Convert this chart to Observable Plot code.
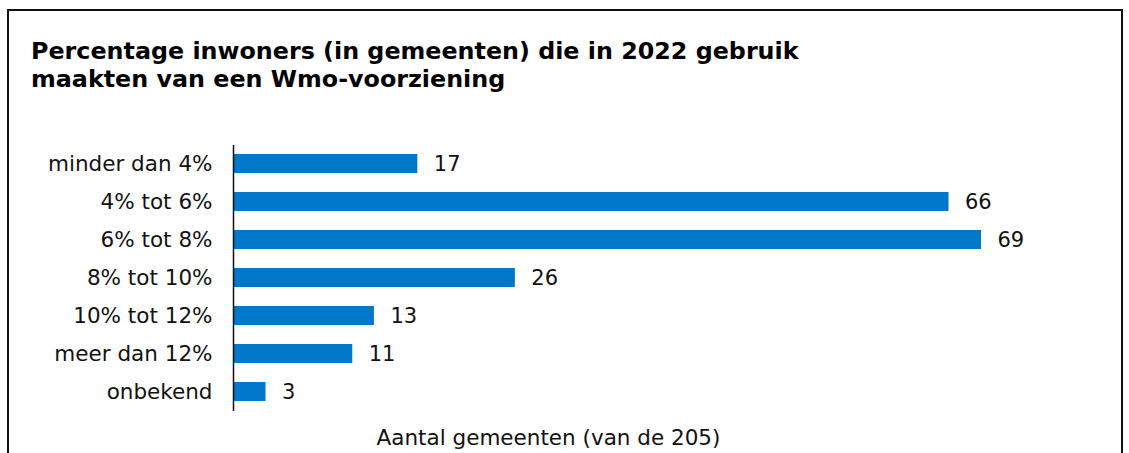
<!DOCTYPE html>
<html>
<head>
<meta charset="utf-8">
<script src="https://cdn.jsdelivr.net/npm/d3@7"></script>
<script src="https://cdn.jsdelivr.net/npm/@observablehq/plot@0.6"></script>
<style>
  html, body { margin: 0; padding: 0; background: #fff; width: 1129px; height: 453px; overflow: hidden; }
  #frame { position: absolute; left: 7px; top: 9px; width: 1116px; height: 460px; border: 2px solid #111; box-sizing: border-box; }
  #title { position: absolute; left: 31px; top: 37px; margin: 0; font-family: "DejaVu Sans", Verdana, sans-serif; font-weight: bold; font-size: 23.8px; line-height: 28px; color: #000; }
  #chart { position: absolute; left: 0; top: 130px; }
</style>
</head>
<body>
<div id="frame"></div>
<div id="title">Percentage inwoners (in gemeenten) die in 2022 gebruik<br>maakten van een Wmo-voorziening</div>
<div id="chart"></div>
<script>
const categories = ["minder dan 4%", "4% tot 6%", "6% tot 8%", "8% tot 10%", "10% tot 12%", "meer dan 12%", "onbekend"];
const values = [17, 66, 69, 26, 13, 11, 3];
const xLabel = "Aantal gemeenten (van de 205)";

const data = categories.map((c, i) => ({category: c, value: values[i]}));

const chart = Plot.plot({
  width: 1129,
  height: 323,
  marginLeft: 233,
  marginRight: 148,
  marginTop: 4,
  marginBottom: 32,
  style: {fontFamily: "'DejaVu Sans', Verdana, sans-serif", fontSize: "21.5px", color: "#111", background: "transparent"},
  x: {domain: [0, 69], axis: null},
  y: {domain: categories, padding: 0.5, label: null},
  marks: [
    Plot.barX(data, {x: "value", y: "category", fill: "#0077c8"}),
    Plot.text(data, {x: "value", y: "category", text: d => String(d.value), textAnchor: "start", dx: 16, fontSize: 21, fill: "#111"}),
    Plot.axisY({tickSize: 0, tickPadding: 21, fontSize: 21.5, label: null}),
    Plot.ruleX([0], {stroke: "#111", strokeWidth: 1.5, insetTop: 11, insetBottom: 10}),
    Plot.text([xLabel], {frameAnchor: "bottom", dy: 23, dx: -59, fontSize: 21.5, fill: "#111"})
  ]
});
document.getElementById("chart").appendChild(chart);
</script>
</body>
</html>
